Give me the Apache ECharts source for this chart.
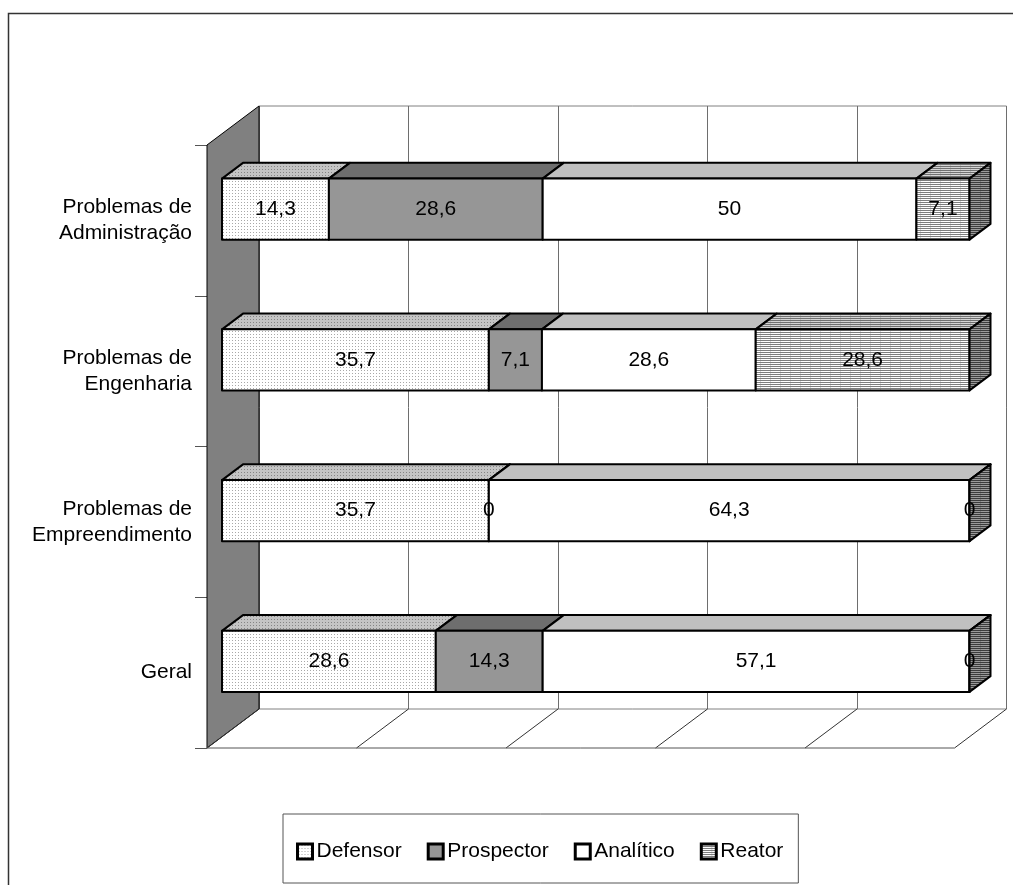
<!DOCTYPE html>
<html>
<head>
<meta charset="utf-8">
<script src="https://cdn.jsdelivr.net/npm/echarts@6/dist/echarts.min.js"></script>
<style>
  html, body { margin: 0; padding: 0; background: #fff; }
  #chart { width: 1013px; height: 885px; }
</style>
</head>
<body>
<div id="chart"></div>
<script>
// Categories, top to bottom
const categories = ['Problemas de\nAdministração', 'Problemas de\nEngenharia', 'Problemas de\nEmpreendimento', 'Geral'];
const seriesNames = ['Defensor', 'Prospector', 'Analítico', 'Reator'];
// Percentages per category (same order as categories)
const defensor   = [14.3, 35.7, 35.7, 28.6];
const prospector = [28.6, 7.1, 0, 14.3];
const analitico  = [50, 28.6, 64.3, 57.1];
const reator     = [7.1, 28.6, 0, 0];
const valueTicks = [0, 20, 40, 60, 80, 100];

const seriesValues = [defensor, prospector, analitico, reator];

// Oblique projection: offset from the front of the floor to the back wall
const DX = 52, DY = -39;
const FRONT = 15 / 52;      // bar front plane, as a fraction of the depth
const DEPTH = 21 / 52;      // bar thickness along the depth
const BAR_FRAC = 0.405;     // bar height relative to the category band
const FONT = '"Liberation Sans", Arial, sans-serif';

// Small repeating fills
function pattern(w, h, bg, paint) {
  const c = document.createElement('canvas');
  c.width = w; c.height = h;
  const g = c.getContext('2d');
  g.fillStyle = bg; g.fillRect(0, 0, w, h);
  paint(g);
  return { image: c, repeat: 'repeat' };
}
const dots = (bg, fg) => pattern(3, 3, bg, g => { g.fillStyle = fg; g.fillRect(1, 1, 1, 1); });
const hlines = (bg, fg, fv) => pattern(10, 2, bg, g => {
  g.fillStyle = fv; g.fillRect(0, 1, 1, 1);
  g.fillStyle = fg; g.fillRect(0, 0, 10, 1);
});

const faces = [
  { front: dots('#ffffff', '#a8a8a8'), top: dots('#c4c4c4', '#858585'), side: dots('#c4c4c4', '#858585') },
  { front: '#969696', top: '#6e6e6e', side: '#6e6e6e' },
  { front: '#ffffff', top: '#c0c0c0', side: '#c0c0c0' },
  { front: hlines('#ffffff', '#7e7e7e', '#d8d8d8'), top: hlines('#d4d4d4', '#707070', '#bcbcbc'), side: hlines('#9a9a9a', '#3c3c3c', '#808080') }
];

// Stack the segments of each category
function stackedData(si) {
  return categories.map((_, ci) => {
    let start = 0;
    for (let k = 0; k < si; k++) start += seriesValues[k][ci];
    const v = seriesValues[si][ci];
    return [ci, start, start + v, v];
  });
}

const fmt = v => String(v).replace('.', ',');

function barRenderer(si) {
  const isLast = si === seriesValues.length - 1;
  return function (params, api) {
    const cat = api.value(0);
    const p0 = api.coord([api.value(1), cat]);
    const p1 = api.coord([api.value(2), cat]);
    const h = api.size([0, 1])[1] * BAR_FRAC;
    const ox = DX * FRONT, oy = DY * FRONT;
    const bx = DX * DEPTH, by = DY * DEPTH;
    const x0 = p0[0] + ox, x1 = p1[0] + ox;
    const yt = p0[1] + oy - h / 2, yb = p0[1] + oy + h / 2;
    const edge = { stroke: '#000', lineWidth: 2, lineJoin: 'round' };
    const f = faces[si];
    const children = [
      { type: 'polygon', shape: { points: [[x0, yt], [x0 + bx, yt + by], [x1 + bx, yt + by], [x1, yt]] },
        style: Object.assign({ fill: f.top }, edge) },
      { type: 'polygon', shape: { points: [[x0, yt], [x1, yt], [x1, yb], [x0, yb]] },
        style: Object.assign({ fill: f.front }, edge) }
    ];
    if (isLast) {
      children.push({ type: 'polygon', shape: { points: [[x1, yt], [x1 + bx, yt + by], [x1 + bx, yb + by], [x1, yb]] },
        style: Object.assign({ fill: f.side }, edge) });
    }
    children.push({ type: 'text', z2: 100,
      style: { text: fmt(api.value(3)), x: (x0 + x1) / 2, y: (yt + yb) / 2, align: 'center', verticalAlign: 'middle',
               font: '21px ' + FONT, fill: '#000' } });
    return { type: 'group', children };
  };
}

// Side wall and floor of the plot box
function frameRenderer(params, api) {
  const cs = params.coordSys;
  const x = cs.x, y = cs.y, w = cs.width, h = cs.height, yb = y + h;
  const children = [
    { type: 'polygon', shape: { points: [[x, y], [x + DX, y + DY], [x + DX, yb + DY], [x, yb]] },
      style: { fill: '#808080', stroke: '#000', lineWidth: 1 } }
  ];
  valueTicks.forEach(v => {
    const xv = api.coord([v, 0])[0];
    children.push({ type: 'line', shape: { x1: xv, y1: yb, x2: xv + DX, y2: yb + DY },
      style: { stroke: '#333', lineWidth: 1 } });
  });
  children.push({ type: 'line', shape: { x1: x, y1: yb, x2: x + w, y2: yb },
    style: { stroke: '#555', lineWidth: 1 } });
  return { type: 'group', children };
}

const FRONT_LEFT = 207, FRONT_TOP = 145, PLOT_W = 747.5, PLOT_H = 603;

const series = [{
  type: 'custom', name: 'frame', xAxisIndex: 1, yAxisIndex: 1, z: 1, silent: true,
  data: [[0, 0]], renderItem: frameRenderer
}];
seriesNames.forEach((name, si) => {
  series.push({
    type: 'custom', name, xAxisIndex: 1, yAxisIndex: 1, z: 2,
    itemStyle: { color: faces[si].front, borderColor: '#000', borderWidth: 3 },
    encode: { x: [1, 2], y: 0 },
    data: stackedData(si),
    renderItem: barRenderer(si)
  });
});

const chart = echarts.init(document.getElementById('chart'), null, { renderer: 'canvas' });
chart.setOption({
  animation: false,
  backgroundColor: '#fff',
  textStyle: { fontFamily: FONT },
  graphic: [{
    type: 'rect', silent: true, z: 0,
    shape: { x: 8.5, y: 13.5, width: 1200, height: 1000 },
    style: { fill: 'none', stroke: '#333', lineWidth: 1.5 }
  }],
  grid: [
    { // back wall
      left: FRONT_LEFT + DX, top: FRONT_TOP + DY, width: PLOT_W, height: PLOT_H,
      show: true, backgroundColor: '#fff', borderColor: '#808080', borderWidth: 1
    },
    { // front edge of the floor
      left: FRONT_LEFT, top: FRONT_TOP, width: PLOT_W, height: PLOT_H
    }
  ],
  xAxis: [
    { type: 'value', gridIndex: 0, min: 0, max: 100, interval: 20,
      axisLine: { show: false }, axisTick: { show: false }, axisLabel: { show: false },
      splitLine: { show: true, lineStyle: { color: '#6e6e6e', width: 1 } } },
    { type: 'value', gridIndex: 1, min: 0, max: 100, interval: 20, show: false }
  ],
  yAxis: [
    { type: 'category', gridIndex: 0, data: categories, inverse: true, show: false },
    { type: 'category', gridIndex: 1, data: categories, inverse: true,
      axisLine: { show: false },
      axisTick: { show: true, length: 12, lineStyle: { color: '#555', width: 1 } },
      axisLabel: { margin: 15, fontSize: 21, lineHeight: 26, color: '#000', fontFamily: FONT },
      splitLine: { show: false } }
  ],
  legend: {
    data: seriesNames,
    left: 283, top: 814,
    orient: 'horizontal',
    icon: 'rect',
    itemWidth: 15, itemHeight: 15, itemGap: 25,
    padding: [27, 15, 21, 13],
    borderColor: '#555', borderWidth: 1, backgroundColor: '#fff',
    itemStyle: { borderColor: '#000', borderWidth: 3 },
    textStyle: { fontSize: 21, color: '#000', fontFamily: FONT, padding: [0, 0, 0, -1] },
    selectedMode: false
  },
  series
});
</script>
</body>
</html>
